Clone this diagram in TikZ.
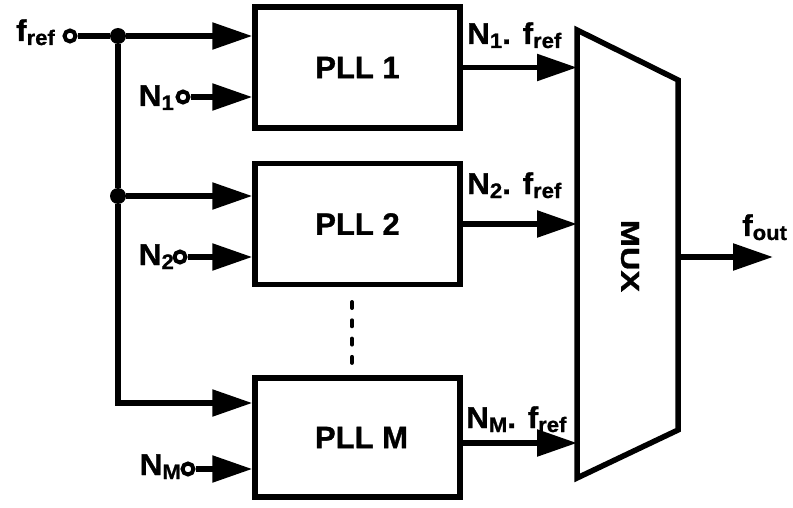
\documentclass[tikz,border=0pt]{standalone}
\usepackage{fontspec}
\setmainfont{Liberation Sans}
\newfontfamily\lblfont{Liberation Sans}[FakeStretch=1.05,FakeBold=1]
\newfontfamily\muxfont{Liberation Sans}[FakeBold=1]
\usetikzlibrary{arrows.meta}
\newcommand{\lsub}[1]{\raisebox{-4pt}{\fontsize{21}{21}\selectfont #1}}
\begin{document}
\begin{tikzpicture}[x=1pt,y=-1pt,
  wire/.style={line width=5.5pt},
  arr/.style={wire,-{Triangle[length=40pt,width=26pt]}},
  pll/.style={draw, line width=5.5pt, minimum width=205pt, minimum height=121pt, inner sep=0pt, font=\muxfont\bfseries\fontsize{31}{33}\selectfont},
  term/.style={circle, draw, fill=white, line width=4pt, minimum size=11pt, inner sep=0pt},
  jdot/.style={circle, fill, minimum size=16pt, inner sep=0pt},
  lbl/.style={font=\lblfont\bfseries\fontsize{30}{32}\selectfont, inner sep=0pt}]
\useasboundingbox (0,0) rectangle (793,508);
% PLL blocks
\node[pll] (p1) at (357.5,67.5) {PLL 1};
\node[pll] (p2) at (357.5,224) {PLL 2};
\node[pll, minimum height=119pt] (pm) at (357.5,437.5) {\hspace*{8pt}PLL M};
% terminals and junctions
\node[term] (tf) at (70,36) {};
\node[jdot] (j1) at (118,36) {};
\node[jdot] (j2) at (118,196) {};
\coordinate (c1) at (118,403);
\node[term] (t1) at (183,97) {};
\node[term] (t2) at (180,257) {};
\node[term] (tm) at (188,469) {};
% reference distribution
\draw[wire] (tf) -- (j1);
\draw[arr] (j1) -- (j1 -| p1.west);
\draw[wire] (j1) -- (j2);
\draw[arr] (j2) -- (j2 -| p2.west);
\draw[arr] (j2) -- (c1) -- (c1 -| pm.west);
\draw[arr] (t1) -- (t1 -| p1.west);
\draw[arr] (t2) -- (t2 -| p2.west);
\draw[arr] (tm) -- (tm -| pm.west);
% input labels
\node[lbl, anchor=base east] (lf) at (55,41) {f\lsub{ref}};
\node[lbl, anchor=base east] (l1) at (174,106) {N\lsub{1}};
\node[lbl, anchor=base east] (l2) at (174,265) {N\lsub{2}};
\node[lbl, anchor=base east] (lm) at (181,475) {N\lsub{M}};
% vertical dots
\draw[line width=4pt, line cap=round, dash pattern=on 6pt off 12.3pt] (352,302) -- (352,363);
% MUX
\coordinate (ma) at (577,30);
\coordinate (mb) at (678,80);
\coordinate (mc) at (678,430);
\coordinate (md) at (577,478);
\draw[line width=5.5pt, line join=miter] (ma) -- (mb) -- (mc) -- (md) -- cycle;
\node[rotate=-90, font=\muxfont\bfseries\fontsize{26}{28}\selectfont, inner sep=0pt] (mux) at (630,256) {\scalebox{1.25}[1]{MUX}};
% PLL outputs
\draw[arr] (p1.east) -- (p1.east -| ma);
\draw[arr] (p2.east) -- (p2.east -| ma);
\coordinate (pmo) at ([yshift=-5.5pt]pm.east);
\draw[arr] (pmo) -- (pmo -| ma);
\node[lbl, anchor=base west] (o1) at (467,44) {N\lsub{1}. f\lsub{ref}};
\node[lbl, anchor=base west] (o2) at (467,194) {N\lsub{2}. f\lsub{ref}};
\node[lbl, anchor=base west] (om) at (466,428) {N\lsub{M}. f\lsub{ref}};
% output
\coordinate (mo) at (678,257);
\coordinate (fo) at (773,257);
\draw[arr] (mo) -- (fo);
\node[lbl, anchor=base west] (lo) at (742,236) {f\lsub{out}};
\end{tikzpicture}
\end{document}
